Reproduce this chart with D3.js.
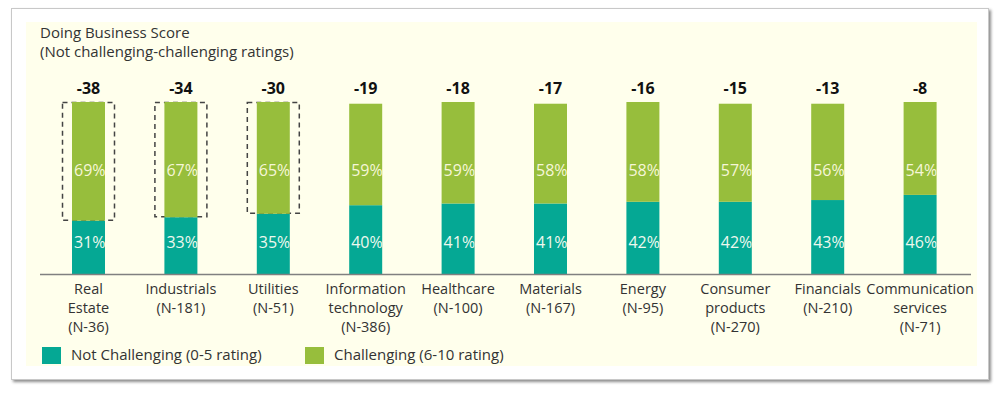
<!DOCTYPE html>
<html><head><meta charset="utf-8">
<script src="https://cdn.jsdelivr.net/npm/d3@7"></script>
<style>
html,body{margin:0;padding:0;background:#fff;}
svg{display:block;font-family:"Open Sans",sans-serif;}
</style></head>
<body>
<svg id="c" width="1002" height="395"></svg>
<script>
const categories = [["Real","Estate","(N-36)"],["Industrials","(N-181)"],["Utilities","(N-51)"],["Information","technology","(N-386)"],["Healthcare","(N-100)"],["Materials","(N-167)"],["Energy","(N-95)"],["Consumer","products","(N-270)"],["Financials","(N-210)"],["Communication","services","(N-71)"]];
const notChallenging = [31,33,35,40,41,41,42,42,43,46];
const challenging = [69,67,65,59,59,58,58,57,56,54];
const scores = [-38,-34,-30,-19,-18,-17,-16,-15,-13,-8];
const highlighted = [0,1,2];
const titleLines = ["Doing Business Score","(Not challenging-challenging ratings)"];
const legendLabels = ["Not Challenging (0-5 rating)","Challenging (6-10 rating)"];

const teal = "#05a894", green = "#97be3c";
const svg = d3.select("#c");

// frame with shadow
const defs = svg.append("defs");
const f = defs.append("filter").attr("id","sh").attr("x","-5%").attr("y","-5%").attr("width","110%").attr("height","115%");
f.append("feDropShadow").attr("dx",2).attr("dy",2).attr("stdDeviation",1.5).attr("flood-color","#000").attr("flood-opacity",0.45);
svg.append("rect").attr("x",11.5).attr("y",8.5).attr("width",977).attr("height",371)
  .attr("fill","#fff").attr("stroke","#c8c8c8").attr("filter","url(#sh)");
svg.append("rect").attr("x",26).attr("y",22).attr("width",951).attr("height",344).attr("fill","#ffffec");

const x = d3.scaleBand().domain(d3.range(categories.length)).range([42.3,966.3]).paddingInner(0.643).paddingOuter(0.3215);
const y = d3.scaleLinear().domain([0,100]).range([274,102]);

// title
svg.append("g").selectAll("text").data(titleLines).join("text")
  .attr("x",40).attr("y",(d,i)=>38+i*19).attr("font-size",15).attr("fill","#333").text(d=>d);

// dashed boxes
svg.append("g").selectAll("rect").data(highlighted).join("rect")
  .attr("x",i=>x(i)-9.5).attr("width",x.bandwidth()+19)
  .attr("y",i=>y(100)+0.5).attr("height",i=>y(notChallenging[i])-y(100)-1)
  .attr("fill","none").attr("stroke","#444").attr("stroke-width",1.5).attr("stroke-dasharray","5,4");

// clip paths per bar
categories.forEach((c,i)=>{
  defs.append("clipPath").attr("id","cl"+i).append("rect")
    .attr("x",x(i)).attr("y",y(100)).attr("width",x.bandwidth()).attr("height",y(0)-y(100));
});

const bars = svg.append("g");
bars.selectAll("rect.nc").data(notChallenging).join("rect").attr("class","nc")
  .attr("x",(d,i)=>x(i)).attr("width",x.bandwidth()).attr("y",d=>y(d)).attr("height",d=>y(0)-y(d)).attr("fill",teal);
bars.selectAll("rect.ch").data(challenging).join("rect").attr("class","ch")
  .attr("x",(d,i)=>x(i)).attr("width",x.bandwidth())
  .attr("y",(d,i)=>y(d+notChallenging[i])).attr("height",(d,i)=>y(notChallenging[i])-y(d+notChallenging[i])).attr("fill",green);

// percent labels
const lab = svg.append("g").attr("font-size",16);
lab.selectAll("text.a").data(challenging).join("text").attr("class","a")
  .attr("clip-path",(d,i)=>"url(#cl"+i+")")
  .attr("x",(d,i)=>x(i)+2).attr("y",y(60.5)+6).attr("fill","#f6f6d8").text(d=>d+"%");
lab.selectAll("text.b").data(notChallenging).join("text").attr("class","b")
  .attr("clip-path",(d,i)=>"url(#cl"+i+")")
  .attr("x",(d,i)=>x(i)+2).attr("y",y(18.6)+6).attr("fill","#eef8ee").text(d=>d+"%");

// scores
svg.append("g").selectAll("text").data(scores).join("text")
  .attr("x",(d,i)=>x(i)+x.bandwidth()/2).attr("y",94).attr("text-anchor","middle")
  .attr("font-size",16).attr("font-weight","bold").attr("fill","#111").text(d=>d);

// axis
const ax = svg.append("g").attr("transform","translate(0,274)")
  .call(d3.axisBottom(x).tickSize(0).tickFormat(""));
ax.select(".domain").attr("stroke","#808080").attr("stroke-width",1.5).attr("d","M40,0.5H971");

// category labels
const cg = svg.append("g").attr("font-size",14.5).attr("fill","#333").attr("text-anchor","middle");
categories.forEach((lines,i)=>{
  cg.append("g").selectAll("text").data(lines).join("text")
    .attr("x",x(i)+x.bandwidth()/2).attr("y",(d,j)=>294+j*19).text(d=>d);
});

// legend
const lg = svg.append("g");
const lx = [42,305];
[teal,green].forEach((c,i)=>{
  lg.append("rect").attr("x",lx[i]).attr("y",347).attr("width",19).attr("height",17).attr("fill",c);
  lg.append("text").attr("x",lx[i]+29).attr("y",360).attr("font-size",15).attr("fill","#333").text(legendLabels[i]);
});
</script>
</body></html>
